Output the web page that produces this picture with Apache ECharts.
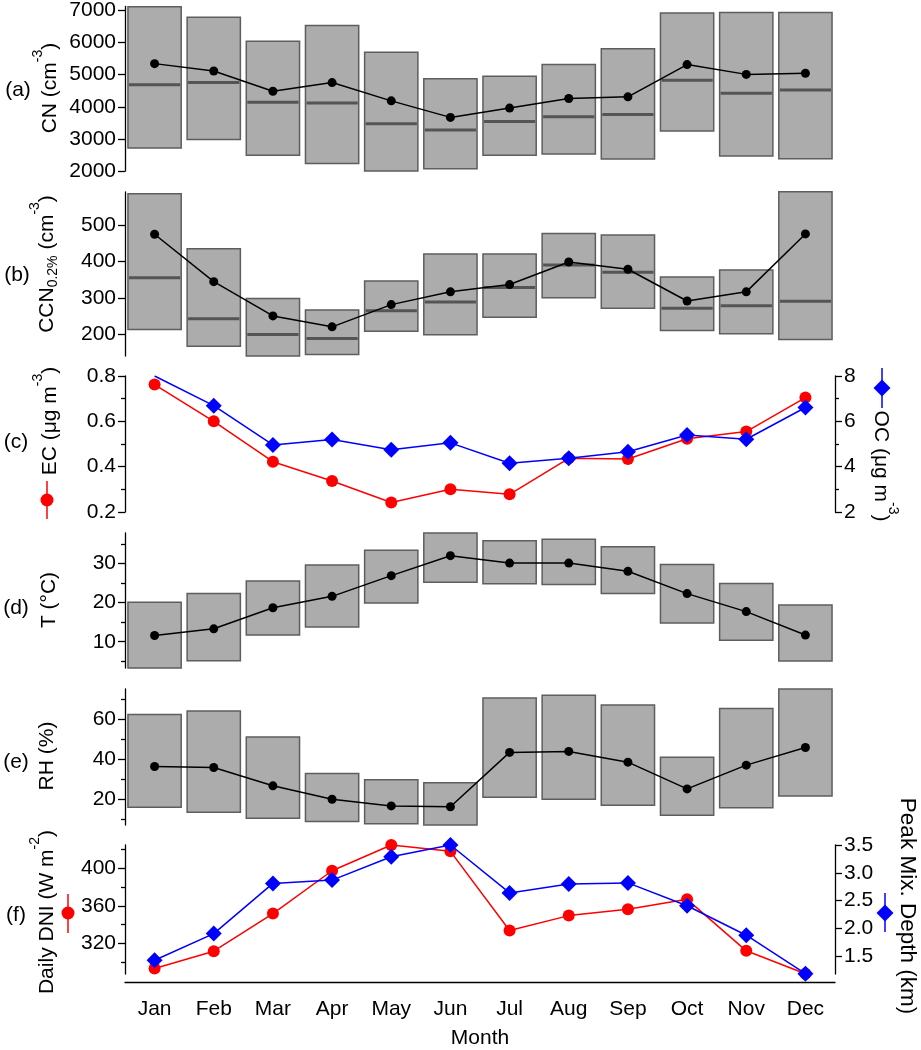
<!DOCTYPE html>
<html>
<head>
<meta charset="utf-8">
<script src="https://cdn.jsdelivr.net/npm/echarts@6/dist/echarts.min.js"></script>
<style>
  html, body { margin: 0; padding: 0; background: #fff; }
  #chart { width: 921px; height: 1050px; }
</style>
</head>
<body>
<div id="chart"></div>
<script>
const months = ['Jan', 'Feb', 'Mar', 'Apr', 'May', 'Jun', 'Jul', 'Aug', 'Sep', 'Oct', 'Nov', 'Dec'];

// (a) CN, cm-3
const cnTop = [7120, 6790, 6040, 6530, 5700, 4870, 4950, 5320, 5810, 6920, 6940, 6940];
const cnBottom = [2720, 2980, 2490, 2230, 2000, 2070, 2490, 2530, 2370, 3250, 2470, 2380];
const cnMedian = [4690, 4760, 4140, 4120, 3470, 3280, 3540, 3690, 3760, 4830, 4420, 4520];
const cnMean = [5345, 5115, 4485, 4755, 4185, 3670, 3960, 4260, 4310, 5315, 5010, 5045];

// (b) CCN 0.2%, cm-3
const ccnTop = [586, 435, 299, 267, 347, 421, 421, 477, 473, 358, 377, 592];
const ccnBottom = [214, 168, 141, 145, 209, 199, 247, 301, 272, 211, 202, 186];
const ccnMedian = [356, 243, 200, 189, 265, 289, 329, 391, 371, 272, 279, 291];
const ccnMean = [475, 345, 251, 221, 282, 317, 337, 399, 379, 292, 317, 476];

// (c) EC and OC, ug m-3
const ecValues = [0.762, 0.60, 0.422, 0.337, 0.242, 0.30, 0.278, 0.437, 0.434, 0.523, 0.555, 0.705];
const ocValues = [8.0, 6.69, 4.96, 5.2, 4.75, 5.05, 4.15, 4.37, 4.66, 5.4, 5.21, 6.61];

// (d) T, degC
const tTop = [20.1, 22.3, 25.5, 29.6, 33.4, 37.8, 35.8, 36.2, 34.3, 29.75, 24.9, 19.4];
const tBottom = [3.3, 5.15, 11.7, 13.75, 19.9, 25.2, 24.8, 24.6, 22.3, 14.8, 10.4, 5.1];
const tMean = [11.6, 13.3, 18.7, 21.6, 26.9, 32.0, 30.1, 30.1, 28.0, 22.3, 17.7, 11.7];

// (e) RH, %
const rhTop = [62.5, 64.2, 51.1, 32.8, 29.6, 28.2, 70.8, 72.1, 67.3, 41.0, 65.5, 75.3];
const rhBottom = [15.8, 13.3, 10.3, 8.6, 7.55, 6.9, 20.9, 19.8, 16.8, 11.8, 15.6, 21.5];
const rhMean = [36.3, 35.8, 26.6, 19.85, 16.5, 16.1, 43.4, 43.9, 38.5, 25.05, 37.0, 45.9];

// (f) daily DNI (W m-2) and peak mixing depth (km)
const dniValues = [293.8, 312, 351.8, 397, 424.2, 417.5, 333.9, 349.6, 356.2, 366.8, 312.4, 288.2];
const mixDepth = [1.43, 1.91, 2.81, 2.87, 3.29, 3.5, 2.64, 2.80, 2.82, 2.41, 1.88, 1.19];

// tick labels
const cnTicks = [2000, 3000, 4000, 5000, 6000, 7000];
const ccnTicks = [200, 300, 400, 500];
const ecTicks = [0.2, 0.4, 0.6, 0.8];
const ecMinor = [0.3, 0.5, 0.7];
const ocTicks = [2, 4, 6, 8];
const ocMinor = [3, 5, 7];
const tTicks = [10, 20, 30];
const tMinor = [5, 15, 25, 35];
const rhTicks = [20, 40, 60];
const rhMinor = [10, 30, 50, 70];
const dniTicks = [320, 360, 400];
const dniMinor = [300, 340, 380, 420];
const mixTicks = [1.5, 2.0, 2.5, 3.0, 3.5];

const ff = '"Liberation Sans", Arial, Helvetica, sans-serif';
const RED = '#ff0000';
const BLUE = '#0000ff';

const chart = echarts.init(document.getElementById('chart'));

// grids: one per panel
const panels = [
  { top: 6, height: 165 },
  { top: 192, height: 164 },
  { top: 376, height: 136 },
  { top: 533, height: 135 },
  { top: 689, height: 136 },
  { top: 845, height: 137 }
];
const grids = panels.map(p => ({ left: 125, right: 86, top: p.top, height: p.height }));

const xAxes = panels.map((p, i) => i < 5
  ? { type: 'category', gridIndex: i, data: months, show: false }
  : {
      type: 'category', gridIndex: i, data: months, offset: 8,
      axisLine: { onZero: false, lineStyle: { color: '#000', width: 1.3 } },
      axisTick: { alignWithLabel: true, length: 7, lineStyle: { color: '#000', width: 1.3 } },
      axisLabel: { fontSize: 21, color: '#000', fontFamily: ff, margin: 17 },
      name: 'Month', nameLocation: 'middle', nameGap: 46,
      nameTextStyle: { fontSize: 21, color: '#000', fontFamily: ff }
    });

const yAxes = [];
function valueAxis(grid, min, max, major, minor, position, fmt) {
  const label = {
    customValues: major, fontSize: 21, color: '#000', fontFamily: ff, margin: 9,
    formatter: fmt || (v => String(v))
  };
  yAxes.push({
    type: 'value', gridIndex: grid, min: min, max: max, position: position,
    splitLine: { show: false },
    axisLine: { show: true, lineStyle: { color: '#000', width: 1.3 } },
    axisTick: { show: true, length: 7, customValues: major, lineStyle: { color: '#000', width: 1.3 } },
    axisLabel: label
  });
  const idx = yAxes.length - 1;
  if (minor) {
    yAxes.push({
      type: 'value', gridIndex: grid, min: min, max: max, position: position,
      splitLine: { show: false }, axisLine: { show: false }, axisLabel: { show: false },
      axisTick: { show: true, length: 4, customValues: minor, lineStyle: { color: '#000', width: 1.3 } }
    });
  }
  return idx;
}

const yCN = valueAxis(0, 2000, 7125, cnTicks, null, 'left');
const yCCN = valueAxis(1, 141, 591, ccnTicks, null, 'left');
const yEC = valueAxis(2, 0.2, 0.8, ecTicks, ecMinor, 'left', v => v.toFixed(1));
const yOC = valueAxis(2, 2, 8, ocTicks, ocMinor, 'right');
const yT = valueAxis(3, 3.28, 37.8, tTicks, tMinor, 'left');
const yRH = valueAxis(4, 6.9, 75.3, rhTicks, rhMinor, 'left');
const yDNI = valueAxis(5, 287.9, 424.2, dniTicks, dniMinor, 'left');
const yMix = valueAxis(5, 1.184, 3.5, mixTicks, null, 'right', v => v.toFixed(1));

function boxSeries(grid, yIdx, bottom, top, median) {
  return {
    type: 'custom', xAxisIndex: grid, yAxisIndex: yIdx, z: 1,
    data: months.map((m, i) => [i, bottom[i], top[i], median ? median[i] : null]),
    encode: { x: 0, y: [1, 2] },
    renderItem: function (params, api) {
      const i = api.value(0);
      const lo = api.coord([i, api.value(1)]);
      const hi = api.coord([i, api.value(2)]);
      const w = api.size([1, 0])[0] * 0.9;
      const children = [{
        type: 'rect',
        shape: { x: lo[0] - w / 2, y: hi[1], width: w, height: lo[1] - hi[1] },
        style: { fill: '#acacac', stroke: '#5e5e5e', lineWidth: 1.5 }
      }];
      const md = api.value(3);
      if (md !== null && !isNaN(md)) {
        const mp = api.coord([i, md]);
        children.push({
          type: 'line',
          shape: { x1: lo[0] - w / 2 + 1, y1: mp[1], x2: lo[0] + w / 2 - 1, y2: mp[1] },
          style: { stroke: '#555', lineWidth: 3 }
        });
      }
      return { type: 'group', children: children };
    }
  };
}

function meanSeries(grid, yIdx, values) {
  return {
    type: 'line', xAxisIndex: grid, yAxisIndex: yIdx, data: values, z: 3,
    symbol: 'circle', symbolSize: 9,
    itemStyle: { color: '#000' }, lineStyle: { color: '#000', width: 1.5 }
  };
}

const series = [
  boxSeries(0, yCN, cnBottom, cnTop, cnMedian), meanSeries(0, yCN, cnMean),
  boxSeries(1, yCCN, ccnBottom, ccnTop, ccnMedian), meanSeries(1, yCCN, ccnMean),
  {
    type: 'line', xAxisIndex: 2, yAxisIndex: yEC, data: ecValues, z: 3, clip: false,
    symbol: 'circle', symbolSize: 12, itemStyle: { color: RED }, lineStyle: { color: RED, width: 1.5 }
  },
  {
    type: 'line', xAxisIndex: 2, yAxisIndex: yOC, z: 4,
    data: ocValues.map(v => v >= 8 ? { value: v, symbol: 'none' } : v),
    symbol: 'diamond', symbolSize: 16, itemStyle: { color: BLUE }, lineStyle: { color: BLUE, width: 1.5 }
  },
  boxSeries(3, yT, tBottom, tTop, null), meanSeries(3, yT, tMean),
  boxSeries(4, yRH, rhBottom, rhTop, null), meanSeries(4, yRH, rhMean),
  {
    type: 'line', xAxisIndex: 5, yAxisIndex: yDNI, data: dniValues, z: 3, clip: false,
    symbol: 'circle', symbolSize: 12, itemStyle: { color: RED }, lineStyle: { color: RED, width: 1.5 }
  },
  {
    type: 'line', xAxisIndex: 5, yAxisIndex: yMix, data: mixDepth, z: 4, clip: false,
    symbol: 'diamond', symbolSize: 16, itemStyle: { color: BLUE }, lineStyle: { color: BLUE, width: 1.5 }
  }
];

// rotated axis titles with super/subscripts
function richSet(size) {
  return {
    m: { fontSize: size, fontFamily: ff, color: '#000', lineHeight: 38 },
    sup: { fontSize: 14, fontFamily: ff, color: '#000', verticalAlign: 'top' },
    sub: { fontSize: 14, fontFamily: ff, color: '#000', verticalAlign: 'middle', padding: [13, 0, 0, 0] }
  };
}
function vTitle(x, y, text, rot, size) {
  return {
    type: 'text', x: x, y: y, rotation: rot,
    style: { text: text, rich: richSet(size || 21), align: 'center', verticalAlign: 'middle' }
  };
}
function tag(x, y, text) {
  return {
    type: 'text', x: x, y: y,
    style: { text: text, font: '21px ' + ff, fill: '#000', align: 'center', verticalAlign: 'middle' }
  };
}
function circleKey(x, y, y1, y2, color) {
  return [
    { type: 'line', shape: { x1: x, y1: y1, x2: x, y2: y2 }, style: { stroke: color, lineWidth: 1.5 } },
    { type: 'circle', shape: { cx: x, cy: y, r: 6.5 }, style: { fill: color } }
  ];
}
function diamondKey(x, y, y1, y2, color) {
  return [
    { type: 'line', shape: { x1: x, y1: y1, x2: x, y2: y2 }, style: { stroke: color, lineWidth: 1.5 } },
    { type: 'polygon', shape: { points: [[x, y - 8.5], [x + 8.5, y], [x, y + 8.5], [x - 8.5, y]] }, style: { fill: color } }
  ];
}
const UP = Math.PI / 2;
const DOWN = -Math.PI / 2;
const graphics = [
  tag(18, 90, '(a)'), vTitle(50, 88, '{m|CN (cm}{sup|-3}{m|)}', UP),
  tag(17, 275, '(b)'), vTitle(47, 264, '{m|CCN}{sub|0.2%}{m| (cm}{sup|-3}{m|)}', UP),
  tag(16, 442, '(c)'), vTitle(50, 421, '{m|EC (μg m}{sup|-3}{m|)}', UP),
  ...circleKey(47, 500, 481, 519, RED),
  vTitle(881, 466, '{m|OC (μg m}{sup|-3}{m|)}', DOWN),
  ...diamondKey(882, 388, 368, 408, BLUE),
  tag(16, 608, '(d)'), vTitle(49, 600, '{m|T (°C)}', UP),
  tag(16, 762, '(e)'), vTitle(47, 756, '{m|RH (%)}', UP),
  tag(16, 915, '(f)'), vTitle(47, 912, '{m|Daily DNI (W m}{sup|-2}{m|)}', UP),
  ...circleKey(68, 913, 894, 933, RED),
  vTitle(907, 906, '{m|Peak Mix. Depth (km)}', DOWN, 22.5),
  ...diamondKey(885, 913, 893, 932, BLUE)
];

chart.setOption({
  animation: false,
  backgroundColor: '#fff',
  grid: grids,
  xAxis: xAxes,
  yAxis: yAxes,
  series: series,
  graphic: graphics
});
</script>
</body>
</html>
